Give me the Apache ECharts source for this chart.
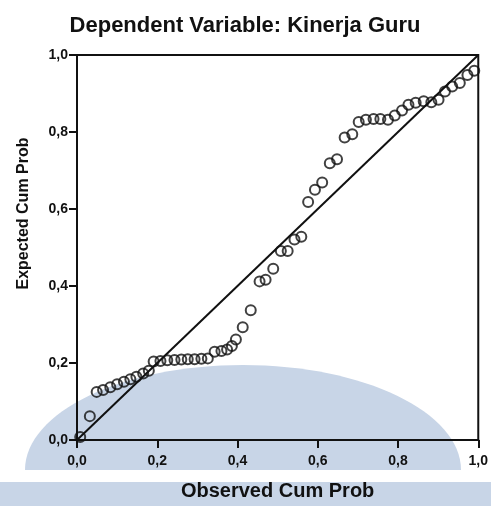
<!DOCTYPE html>
<html><head><meta charset="utf-8">
<script src="https://cdn.jsdelivr.net/npm/echarts@6/dist/echarts.min.js"></script>
<style>html,body{margin:0;padding:0;background:#fff}#c{width:491px;height:506px}</style>
</head><body><div id="c"></div>
<script>
var titleText = 'Dependent Variable: Kinerja Guru';
var xName = 'Observed Cum Prob';
var yName = 'Expected Cum Prob';
var tickValues = [0, 0.2, 0.4, 0.6, 0.8, 1.0];
var observed = [0.008,0.032,0.049,0.065,0.083,0.100,0.117,0.133,0.148,0.165,0.179,0.191,0.208,0.225,0.243,0.260,0.276,0.293,0.310,0.326,0.343,0.360,0.374,0.386,0.396,0.413,0.433,0.455,0.470,0.489,0.508,0.525,0.542,0.559,0.576,0.593,0.611,0.630,0.648,0.667,0.686,0.702,0.720,0.739,0.756,0.775,0.792,0.810,0.826,0.844,0.864,0.883,0.901,0.917,0.935,0.954,0.973,0.990];
var expected = [0.008,0.062,0.125,0.130,0.137,0.145,0.151,0.158,0.164,0.173,0.180,0.204,0.205,0.207,0.208,0.209,0.210,0.210,0.211,0.212,0.229,0.231,0.235,0.244,0.261,0.293,0.337,0.412,0.416,0.445,0.491,0.491,0.521,0.528,0.618,0.650,0.669,0.719,0.729,0.786,0.794,0.826,0.832,0.834,0.834,0.832,0.843,0.856,0.871,0.876,0.880,0.877,0.884,0.905,0.918,0.927,0.948,0.959];
var diagonal = [[0,0],[1,1]];

var pts = observed.map(function(v,i){return [v, expected[i]];});
var chart = echarts.init(document.getElementById('c'), null, {renderer:'canvas'});
var fmt = function(v){return v.toFixed(1).replace('.', ',');};
var ff = 'Liberation Sans, Arial, sans-serif';
var lblStyle = {color:'#111', fontFamily:ff, fontSize:14, fontWeight:'bold'};
chart.setOption({
  animation:false,
  backgroundColor:'#fff',
  title:{text:titleText, left:240, top:10, textAlign:'center',
    textStyle:{fontFamily:ff, fontSize:22, fontWeight:'bold', color:'#111'}},
  graphic:[
    {type:'ellipse', z:-10, silent:true, shape:{cx:243, cy:470, rx:218, ry:105}, style:{fill:'#c8d5e7'}},
    {type:'rect', z:-10, silent:true, shape:{x:0, y:482, width:238, height:24}, style:{fill:'#c8d5e7'}},
    {type:'rect', z:-10, silent:true, shape:{x:244, y:482, width:247, height:24}, style:{fill:'#c8d5e7'}},
    {type:'rect', z:-9, silent:true, shape:{x:0, y:470, width:491, height:12}, style:{fill:'#ffffff'}}
  ],
  grid:{left:77, right:11, top:55, bottom:63, show:true, borderColor:'#111', borderWidth:2, backgroundColor:'transparent'},
  xAxis:{type:'value', min:0, max:1, interval:0.2,
    name:xName, nameLocation:'middle', nameGap:41,
    nameTextStyle:{fontFamily:ff, fontSize:20, fontWeight:'bold', color:'#111'},
    axisLine:{lineStyle:{color:'#111', width:2}},
    axisTick:{show:true, length:8, lineStyle:{color:'#111', width:2}},
    axisLabel:Object.assign({formatter:fmt, margin:14}, lblStyle),
    splitLine:{show:false}},
  yAxis:{type:'value', min:0, max:1, interval:0.2,
    name:yName, nameLocation:'middle', nameGap:45, nameRotate:90,
    nameTextStyle:{fontFamily:ff, fontSize:16, fontWeight:'bold', color:'#111', padding:[0,0,0,68]},
    axisLine:{lineStyle:{color:'#111', width:2}},
    axisTick:{show:true, length:8, lineStyle:{color:'#111', width:2}},
    axisLabel:Object.assign({formatter:fmt, margin:9}, lblStyle),
    splitLine:{show:false}},
  series:[
    {type:'line', data:diagonal, symbol:'none', lineStyle:{color:'#111', width:2}, z:2},
    {type:'scatter', data:pts, symbol:'circle', symbolSize:10,
      itemStyle:{color:'rgba(255,255,255,0)', borderColor:'#111', borderWidth:2}, z:3}
  ]
});
</script></body></html>
